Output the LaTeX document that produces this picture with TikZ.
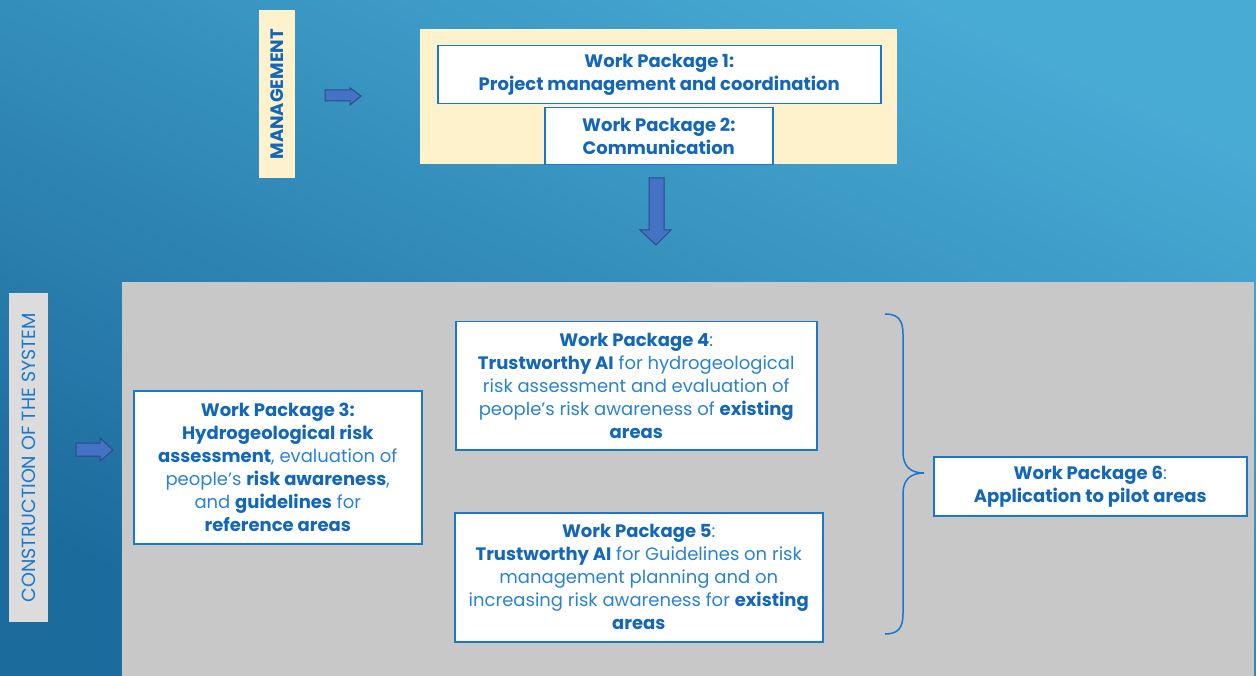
\documentclass[tikz,border=0pt]{standalone}
\usepackage{fontspec}
\setmainfont{Poppins}
\usetikzlibrary{shadings}
\definecolor{bgtop}{HTML}{48ABD4}
\definecolor{bgbot}{HTML}{1C6B9D}
\definecolor{yel}{HTML}{FEF2CC}
\definecolor{greyarea}{HTML}{C8C8C8}
\definecolor{lblgrey}{HTML}{DCDCDC}
\definecolor{boxline}{HTML}{1A78CC}
\definecolor{tbold}{HTML}{1367B8}
\definecolor{treg}{HTML}{2A82D2}
\definecolor{arrfill}{HTML}{4472C4}
\definecolor{arrline}{HTML}{2F4A86}
\tikzset{
  wpbox/.style={draw=boxline, line width=1.5pt, fill=white, anchor=north west,
    inner sep=0pt, align=center, text=treg, font=\fontsize{18}{23}\selectfont},
  sidelabel/.style={anchor=north west, inner sep=0pt},
  blockarrow/.style={fill=arrfill, draw=arrline, line width=1pt, line join=miter},
  bracestyle/.style={draw=boxline, line width=1.5pt},
}
\newcommand{\B}[1]{\textbf{\color{tbold}#1}}
\newcommand{\apos}{{\char"0027}}
\begin{document}
\begin{tikzpicture}[x=1pt,y=-1pt]
\useasboundingbox (0,0) rectangle (1256,676);
% background
\shade[top color=bgtop, bottom color=bgbot, shading angle=-25] (0,0) rectangle (1256,676);
% areas
\fill[yel] (420,29) rectangle (897,164);
\fill[greyarea] (122,282) rectangle (1254,676);
% side labels
\node[sidelabel, fill=yel, minimum width=36pt, minimum height=168pt] (mlab) at (259,10) {};
\node[rotate=90, text=tbold, font=\bfseries\fontsize{18}{18}\selectfont] at (mlab.center) {MANAGEMENT};
\node[sidelabel, fill=lblgrey, minimum width=39pt, minimum height=329pt] (clab) at (9,293) {};
\node[rotate=90, text=boxline, font=\fontsize{19}{19}\selectfont] at (clab.center) {CONSTRUCTION OF THE SYSTEM};
% work packages
\node[wpbox, minimum width=443pt, minimum height=58pt] (wp1) at (437,45)
  {\B{Work Package 1:}\\\B{Project management and coordination}};
\node[wpbox, minimum width=228pt, minimum height=57pt] (wp2) at (544,107)
  {\B{Work Package 2:}\\\B{Communication}};
\node[wpbox, minimum width=288pt, minimum height=153pt] (wp3) at (133,390)
  {\B{Work Package 3:}\\\B{Hydrogeological risk}\\\B{assessment}, evaluation of\\people\apos s \B{risk awareness},\\and \B{guidelines} for\\\B{reference areas}};
\node[wpbox, minimum width=361pt, minimum height=128pt] (wp4) at (455,321)
  {\B{Work Package 4}:\\\B{Trustworthy AI} for hydrogeological\\risk assessment and evaluation of\\people\apos s risk awareness of \B{existing}\\\B{areas}};
\node[wpbox, minimum width=368pt, minimum height=129pt] (wp5) at (454,512)
  {\B{Work Package 5}:\\\B{Trustworthy AI} for Guidelines on risk\\management planning and on\\increasing risk awareness for \B{existing}\\\B{areas}};
\node[wpbox, minimum width=313pt, minimum height=59pt] (wp6) at (933,456)
  {\B{Work Package 6}:\\\B{Application to pilot areas}};
% block arrows
\draw[blockarrow] (325,90) -- (350,90) -- (350,88) -- (361,96) -- (350,105) -- (350,101) -- (325,101) -- cycle;
\draw[blockarrow] (76,443) -- (100,443) -- (100,438) -- (113,450) -- (100,461) -- (100,456) -- (76,456) -- cycle;
\draw[blockarrow] (649,178) -- (664,178) -- (664,230) -- (671,230) -- (656,245) -- (640,230) -- (649,230) -- cycle;
% brace
\coordinate (btop) at (885,314);
\coordinate (bbot) at (885,634);
\coordinate (btip) at (924,473);
\draw[bracestyle] (btop) .. controls (898,314) and (903,320) .. (903,334) -- (903,452)
  .. controls (903,466) and (910,473) .. (btip)
  .. controls (910,473) and (903,480) .. (903,494) -- (903,614)
  .. controls (903,628) and (898,634) .. (bbot);
\end{tikzpicture}
\end{document}
